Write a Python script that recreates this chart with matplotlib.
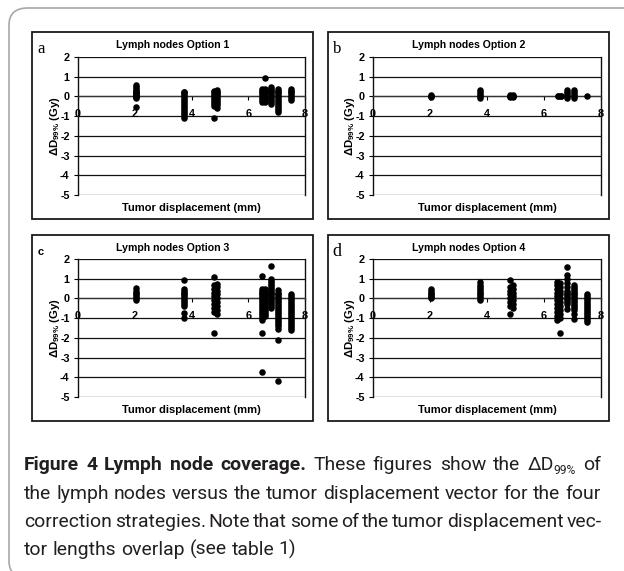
import matplotlib
matplotlib.use('Agg')
import matplotlib.pyplot as plt
from matplotlib.patches import Rectangle, FancyBboxPatch

# ---------------- data ----------------
opt1_pos = [2.05, 3.75, 4.8, 4.9, 6.5, 6.6, 6.8, 7.05, 7.5]
opt1_vals = [
    [0.6, 0.5, 0.4, 0.3, 0.25, 0.2, 0.15, 0.1, 0.05, 0.0, -0.05, -0.1, -0.55],
    [0.25, 0.2, 0.1, 0.0, -0.1, -0.2, -0.3, -0.4, -0.5, -0.6, -0.7, -0.8, -0.9, -1.0, -1.1],
    [0.3, 0.2, 0.1, 0.0, -0.1, -0.2, -0.3, -0.4, -0.5, -1.1],
    [0.35, 0.25, 0.15, 0.05, -0.05, -0.15, -0.25, -0.35, -0.45, -0.6],
    [0.4, 0.3, 0.2, 0.1, 0.0, -0.1, -0.2, -0.3],
    [0.95, 0.4, 0.3, 0.2, 0.1, 0.0, -0.1, -0.2, -0.3],
    [0.5, 0.4, 0.3, 0.2, 0.1, 0.0, -0.1, -0.2, -0.3, -0.4],
    [0.4, 0.3, 0.2, 0.1, 0.0, -0.1, -0.2, -0.3, -0.4, -0.5, -0.6, -0.7, -0.8],
    [0.4, 0.3, 0.2, 0.1, 0.0, -0.1, -0.2],
]

opt2_pos = [2.05, 3.75, 4.8, 4.9, 6.5, 6.6, 6.8, 7.05, 7.5]
opt2_vals = [
    [0.05, 0.0, -0.05],
    [0.35, 0.2, 0.1, 0.0, -0.1],
    [0.05, 0.0, -0.05],
    [0.05, 0.0, -0.05],
    [0.0, 0.02],
    [0.0, 0.02],
    [0.35, 0.2, 0.1, 0.0, -0.1],
    [0.35, 0.2, 0.1, 0.0, -0.1],
    [0.0],
]

opt3_pos = [2.05, 3.75, 4.8, 4.9, 6.5, 6.6, 6.8, 7.05, 7.5]
opt3_vals = [
    [0.55, 0.4, 0.3, 0.2, 0.1, 0.0, -0.1],
    [0.95, 0.5, 0.4, 0.3, 0.2, 0.1, 0.0, -0.1, -0.2, -0.3, -0.4, -0.75, -1.0],
    [1.1, 0.7, 0.5, 0.3, 0.1, -0.1, -0.3, -0.5, -0.7, -1.75],
    [0.75, 0.6, 0.4, 0.2, 0.0, -0.2, -0.4, -0.6, -0.8],
    [1.15, 0.5, 0.4, 0.3, 0.2, 0.1, 0.0, -0.1, -0.2, -0.3, -0.4, -0.5, -0.6, -0.7, -0.8, -0.9, -1.0, -1.1, -1.75, -3.75],
    [0.5, 0.4, 0.3, 0.2, 0.1, 0.0, -0.1, -0.2, -0.3, -0.4, -0.5, -0.6, -0.7, -0.8, -0.9],
    [1.65, 1.0, 0.9, 0.8, 0.7, 0.6, 0.5, 0.4, 0.3, 0.2, 0.1, 0.0, -0.1, -0.2, -0.3, -0.4, -0.5],
    [0.45, 0.3, 0.2, 0.1, 0.0, -0.1, -0.2, -0.3, -0.4, -0.5, -0.6, -0.7, -0.8, -0.9, -1.0, -1.1, -1.2, -1.3, -1.4, -1.55, -2.1, -4.2],
    [0.2, 0.1, 0.0, -0.1, -0.2, -0.3, -0.4, -0.5, -0.6, -0.7, -0.8, -0.9, -1.0, -1.1, -1.2, -1.3, -1.4, -1.5, -1.6],
]

opt4_pos = [2.05, 3.75, 4.8, 4.9, 6.45, 6.55, 6.8, 7.05, 7.5]
opt4_vals = [
    [0.5, 0.4, 0.3, 0.2, 0.1, 0.05, 0.0],
    [0.85, 0.7, 0.6, 0.5, 0.4, 0.3, 0.2, 0.1, 0.0, -0.1],
    [0.95, 0.6, 0.4, 0.2, 0.0, -0.2, -0.4, -0.8],
    [0.7, 0.5, 0.3, 0.1, -0.1, -0.3, -0.5],
    [0.85, 0.7, 0.5, 0.3, 0.1, -0.1, -0.3, -0.5, -0.7, -0.9, -1.1],
    [0.8, 0.6, 0.4, 0.2, 0.0, -0.2, -0.4, -0.6, -0.8, -1.0, -1.75],
    [1.6, 1.2, 1.0, 0.8, 0.6, 0.4, 0.3, 0.2, 0.1, 0.0, -0.1, -0.2, -0.3, -0.55],
    [0.7, 0.6, 0.5, 0.4, 0.3, 0.2, 0.1, 0.0, -0.1, -0.2, -0.3, -0.4, -0.5, -0.6, -0.8, -1.05],
    [0.2, 0.1, 0.0, -0.1, -0.2, -0.3, -0.4, -0.5, -0.6, -0.7, -0.8, -0.9, -1.0, -1.1, -1.2],
]

titles = ['Lymph nodes Option 1', 'Lymph nodes Option 2', 'Lymph nodes Option 3', 'Lymph nodes Option 4']
letters = ['a', 'b', 'c', 'd']
x_ticks = [0, 2, 4, 6, 8]
y_ticks = [-5, -4, -3, -2, -1, 0, 1, 2]
x_label = 'Tumor displacement (mm)'
y_label = r'$\mathbf{\Delta D_{99\%}}$ (Gy)'

caption_lines = [
    "Figure 4 Lymph node coverage. These figures show the \u0394D99% of",
    "the lymph nodes versus the tumor displacement vector for the four",
    "correction strategies. Note that some of the tumor displacement vec-",
    "tor lengths overlap (see table 1)",
]

# ---------------- layout ----------------
W, H = 624, 571
plt.rcParams['mathtext.fontset'] = 'custom'
plt.rcParams['mathtext.bf'] = 'Liberation Sans:bold'
plt.rcParams['mathtext.rm'] = 'Liberation Sans'
plt.rcParams['mathtext.it'] = 'Liberation Sans:italic'
SANS = ['Liberation Sans', 'DejaVu Sans']

fig = plt.figure(figsize=(W / 100, H / 100), dpi=100)


def fx(px):
    return px / W


def fy(py):
    return 1 - py / H


# outer rounded frame
fig.add_artist(FancyBboxPatch((fx(9), fy(578)), fx(700) - fx(9), fy(8) - fy(578),
                              boxstyle="round,pad=0,rounding_size=0.03",
                              transform=fig.transFigure, fill=False,
                              ec='#a8a8a8', lw=1.2, clip_on=False))

boxes = [(32, 32, 313, 219), (328, 32, 609, 219), (32, 235, 313, 421), (328, 235, 609, 421)]
plots = [(78, 57, 305, 195), (373, 57, 601, 195), (78, 259, 305, 397), (373, 259, 601, 397)]
letter_fam = [['Liberation Serif'], ['Liberation Serif'], SANS, ['Liberation Serif']]
letter_size = [12, 12, 8, 13]
letter_weight = ['normal', 'normal', 'bold', 'normal']
data = [(opt1_pos, opt1_vals), (opt2_pos, opt2_vals), (opt3_pos, opt3_vals), (opt4_pos, opt4_vals)]

for i in range(4):
    bx0, by0, bx1, by1 = boxes[i]
    px0, py0, px1, py1 = plots[i]
    fig.add_artist(Rectangle((fx(bx0), fy(by1)), fx(bx1) - fx(bx0), fy(by0) - fy(by1),
                             transform=fig.transFigure, fill=False, ec='#1a1a1a', lw=1.3))
    ax = fig.add_axes([fx(px0), fy(py1), (px1 - px0) / W, (py1 - py0) / H])
    pos, vals = data[i]
    xs = [p for p, v in zip(pos, vals) for _ in v]
    ys = [y for v in vals for y in v]
    ax.scatter(xs, ys, s=22, c='black', lw=0, zorder=4, clip_on=False)
    ax.set_xlim(0, 8)
    ax.set_ylim(-5, 2)
    for k in y_ticks:
        ax.axhline(k, color='#111111', lw=0.9, zorder=1)
    ax.spines['top'].set_visible(False)
    ax.spines['bottom'].set_position(('data', 0))
    ax.spines['bottom'].set_color('#333333')
    ax.spines['bottom'].set_linewidth(0.9)
    for s in ('left', 'right'):
        ax.spines[s].set_color('#111111')
        ax.spines[s].set_linewidth(1.0)
    ax.set_xticks(x_ticks)
    ax.set_yticks(y_ticks)
    ax.set_xticklabels([str(t) for t in x_ticks])
    ax.set_yticklabels([str(t) for t in y_ticks])
    ax.tick_params(axis='x', direction='out', length=3, width=0.8, pad=6, labelsize=7.8)
    ax.tick_params(axis='y', direction='out', length=3, width=0.8, pad=3, labelsize=7.8)
    for lab in ax.get_xticklabels() + ax.get_yticklabels():
        lab.set_fontfamily(SANS)
        lab.set_fontweight('bold')
    ax.patch.set_alpha(0)

    cx = (bx0 + bx1) / 2
    fig.text(fx(cx), fy(by0 + 13), titles[i], ha='center', va='center', fontsize=7.6,
             fontweight='bold', family=SANS)
    fig.text(fx((px0 + px1) / 2), fy(by1 - 11), x_label, ha='center', va='center', fontsize=8,
             fontweight='bold', family=SANS)
    fig.text(fx(px0 - 23), fy((py0 + py1) / 2), y_label, ha='center', va='center',
             rotation=90, fontsize=8.2, fontweight='bold', family=SANS)
    fig.text(fx(bx0 + 9), fy(by0 + 17), letters[i], ha='center', va='center',
             fontsize=letter_size[i], family=letter_fam[i], fontweight=letter_weight[i])

# ---------------- caption (justified) ----------------
renderer = fig.canvas.get_renderer()
CAP_FAMILY = ['Roboto', 'DejaVu Sans']
COL = '#231f20'


def measure(s, size, weight):
    t = fig.text(0, 0, s, fontsize=size, fontweight=weight, family=CAP_FAMILY)
    w = t.get_window_extent(renderer).width
    t.remove()
    return w


# fit font size so the second (full, regular) line fits the column naturally
X0, X1 = 24, 601
base = 10.0
w_line2 = measure(caption_lines[1], base, 'normal')
CAP_FS = base * (X1 - X0 - 4) / w_line2
space_w = measure('a a', CAP_FS, 'normal') - measure('aa', CAP_FS, 'normal')

bold_words = 5  # "Figure 4 Lymph node coverage."
baselines = [470, 499, 527, 555]


def word_segments(word, bold):
    weight = 'bold' if bold else 'normal'
    if word.startswith('\u0394D99%'):
        return [('\u0394D', weight, 1.0, 0.0), ('99%', weight, 0.62, -3.5)]
    return [(word, weight, 1.0, 0.0)]


for li, line in enumerate(caption_lines):
    words = line.split(' ')
    segs = []
    widths = []
    for wi, wd in enumerate(words):
        bold = (li == 0 and wi < bold_words)
        sg = word_segments(wd, bold)
        ww = sum(measure(s, CAP_FS * sc, we) for s, we, sc, dy in sg)
        segs.append(sg)
        widths.append(ww)
    if li < 3:
        gap = (X1 - X0 - sum(widths)) / (len(words) - 1)
        gap = max(gap, space_w * 0.6)
    else:
        gap = space_w
    x = X0
    for sg, ww in zip(segs, widths):
        xx = x
        for s, we, sc, dy in sg:
            fig.text(fx(xx), fy(baselines[li] - dy), s, fontsize=CAP_FS * sc,
                     fontweight=we, family=CAP_FAMILY, color=COL,
                     ha='left', va='baseline')
            xx += measure(s, CAP_FS * sc, we)
        x += ww + gap

fig.savefig('out.png', dpi=100)
